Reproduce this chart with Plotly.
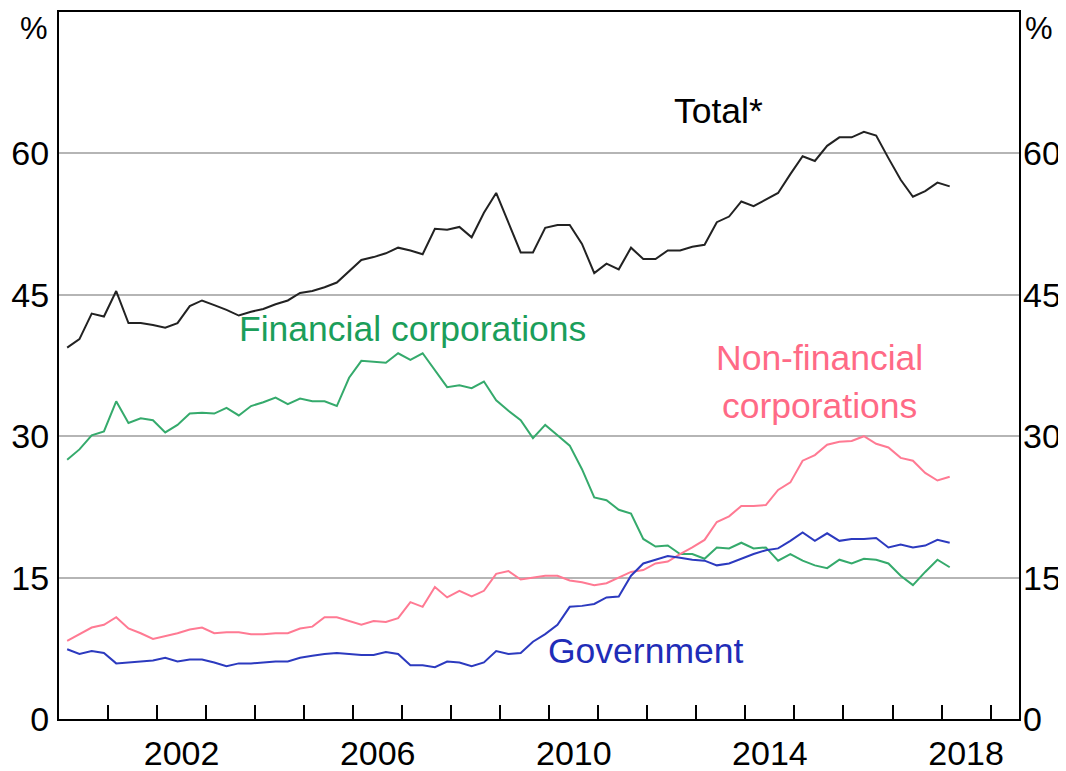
import plotly.graph_objects as go

# Quarterly observations, March 2000 to March 2018 (plotted at 1 March of quarter end month)
start_year = 2000
n_quarters = 73
dates = [start_year + 2/12 + 0.25 * i for i in range(n_quarters)]

total = [39.4, 40.3, 43.0, 42.7, 45.4, 42.0, 42.0, 41.8, 41.5, 42.0,
         43.8, 44.4, 43.9, 43.4, 42.8, 43.2, 43.5, 44.0, 44.4, 45.2,
         45.4, 45.8, 46.3, 47.5, 48.7, 49.0, 49.4, 50.0, 49.7, 49.3,
         52.0, 51.9, 52.2, 51.1, 53.7, 55.8, 52.7, 49.5, 49.5, 52.1,
         52.4, 52.4, 50.4, 47.3, 48.3, 47.7, 50.0, 48.8, 48.8, 49.7,
         49.7, 50.1, 50.3, 52.7, 53.3, 54.9, 54.4, 55.1, 55.8, 57.8,
         59.7, 59.2, 60.8, 61.7, 61.7, 62.3, 61.9, 59.5, 57.2, 55.4,
         56.0, 56.9, 56.5]

financial = [27.5, 28.6, 30.1, 30.5, 33.7, 31.4, 31.9, 31.7, 30.4, 31.2,
             32.4, 32.5, 32.4, 33.0, 32.2, 33.2, 33.6, 34.1, 33.4, 34.0,
             33.7, 33.7, 33.2, 36.2, 38.0, 37.9, 37.8, 38.8, 38.1, 38.8,
             37.0, 35.2, 35.4, 35.1, 35.8, 33.8, 32.7, 31.7, 29.8, 31.2,
             30.1, 29.0, 26.5, 23.5, 23.2, 22.2, 21.8, 19.1, 18.3, 18.4,
             17.5, 17.5, 17.0, 18.2, 18.1, 18.7, 18.1, 18.2, 16.8, 17.5,
             16.8, 16.3, 16.0, 16.9, 16.5, 17.0, 16.9, 16.5, 15.2, 14.2,
             15.6, 16.9, 16.1]

non_financial = [8.3, 9.0, 9.7, 10.0, 10.8, 9.6, 9.1, 8.5, 8.8, 9.1,
                 9.5, 9.7, 9.1, 9.2, 9.2, 9.0, 9.0, 9.1, 9.1, 9.6,
                 9.8, 10.8, 10.8, 10.4, 10.0, 10.4, 10.3, 10.7, 12.4, 11.9,
                 14.0, 12.9, 13.6, 13.0, 13.6, 15.4, 15.7, 14.8, 15.0, 15.2,
                 15.2, 14.7, 14.5, 14.2, 14.4, 15.0, 15.6, 15.8, 16.5, 16.7,
                 17.5, 18.2, 19.0, 20.9, 21.5, 22.6, 22.6, 22.7, 24.3, 25.1,
                 27.4, 28.0, 29.1, 29.4, 29.5, 30.0, 29.2, 28.8, 27.7, 27.4,
                 26.1, 25.3, 25.7]

government = [7.4, 6.9, 7.2, 7.0, 5.9, 6.0, 6.1, 6.2, 6.5, 6.1,
              6.3, 6.3, 6.0, 5.6, 5.9, 5.9, 6.0, 6.1, 6.1, 6.5,
              6.7, 6.9, 7.0, 6.9, 6.8, 6.8, 7.1, 6.9, 5.7, 5.7,
              5.5, 6.1, 6.0, 5.6, 6.0, 7.2, 6.9, 7.0, 8.2, 9.0,
              10.0, 11.9, 12.0, 12.2, 12.9, 13.0, 15.2, 16.5, 16.9, 17.3,
              17.1, 16.9, 16.8, 16.3, 16.5, 17.0, 17.5, 17.9, 18.1, 18.9,
              19.8, 18.9, 19.7, 18.9, 19.1, 19.1, 19.2, 18.2, 18.5, 18.2,
              18.4, 19.0, 18.7]

y_ticks = [0, 15, 30, 45, 60]
x_label_years = [2002, 2006, 2010, 2014, 2018]
x_minor_ticks = list(range(2001, 2020))

BLACK = "#000000"
GREEN = "#1b9e5a"
PINK = "#ff6a86"
BLUE = "#1f2db8"
FONT = "Arial, Liberation Sans, sans-serif"
TICK_SIZE = 34
UNIT_SIZE = 31
LABEL_SIZE = 35.5

fig = go.Figure()
series = [
    ("Total*", total, "#222222"),
    ("Financial corporations", financial, "#35aa6c"),
    ("Non-financial corporations", non_financial, "#ff7a93"),
    ("Government", government, "#2c3abf"),
]
for name, vals, col in series:
    fig.add_trace(go.Scatter(x=dates, y=vals, mode="lines", name=name,
                             line=dict(color=col, width=2), hoverinfo="skip"))
# invisible trace to activate right-hand axis
fig.add_trace(go.Scatter(x=[dates[0]], y=[0], yaxis="y2", mode="lines",
                         line=dict(width=0), showlegend=False, hoverinfo="skip"))

# page body has an 8px margin, so the figure is 8px smaller than the window
fig.update_layout(
    width=1058, height=763,
    margin=dict(l=51, r=47, t=4, b=52, autoexpand=False),
    paper_bgcolor="white", plot_bgcolor="white",
    showlegend=False,
    font=dict(family=FONT, size=TICK_SIZE, color="black"),
    xaxis=dict(
        range=[2000, 2019.58],
        tickmode="array",
        tickvals=[y + 0.5 for y in x_label_years],
        ticktext=[str(y) for y in x_label_years],
        ticks="",
        automargin=False,
        showgrid=False, zeroline=False,
        showline=True, linecolor=BLACK, linewidth=2, mirror=True,
        tickfont=dict(family=FONT, size=TICK_SIZE, color="black"),
        ticklabelstandoff=3,
        minor=dict(tickmode="array", tickvals=x_minor_ticks, ticks="inside",
                   ticklen=14, tickwidth=2, tickcolor=BLACK, showgrid=False),
    ),
    yaxis=dict(
        range=[0, 75],
        tickmode="array", tickvals=y_ticks,
        ticks="", showgrid=True, gridcolor="#b5b5b5", gridwidth=1.5,
        zeroline=False, automargin=False,
        showline=True, linecolor=BLACK, linewidth=2, mirror=True,
        tickfont=dict(family=FONT, size=TICK_SIZE, color="black"),
        ticklabelstandoff=1,
    ),
    yaxis2=dict(
        range=[0, 75], overlaying="y", side="right",
        tickmode="array", tickvals=y_ticks,
        ticks="", showgrid=False, zeroline=False, showline=False,
        automargin=False,
        tickfont=dict(family=FONT, size=TICK_SIZE, color="black"),
        ticklabelstandoff=3,
    ),
)

annots = [
    dict(text="%", x=0, xref="paper", xanchor="right", xshift=-9,
         y=73.2, yref="y", yanchor="middle",
         font=dict(size=UNIT_SIZE, color="black")),
    dict(text="%", x=1, xref="paper", xanchor="left", xshift=4,
         y=73.2, yref="y", yanchor="middle",
         font=dict(size=UNIT_SIZE, color="black")),
    dict(text="Total*", x=2013.45, y=64.5, font=dict(size=LABEL_SIZE, color=BLACK)),
    dict(text="Financial corporations", x=2007.21, y=41.4, font=dict(size=LABEL_SIZE, color=GREEN)),
    dict(text="Non-financial", x=2015.52, y=38.3, font=dict(size=LABEL_SIZE, color=PINK)),
    dict(text="corporations", x=2015.52, y=33.2, font=dict(size=LABEL_SIZE, color=PINK)),
    dict(text="Government", x=2011.97, y=7.2, font=dict(size=LABEL_SIZE, color=BLUE)),
]
for a in annots:
    a.setdefault("xref", "x")
    a.setdefault("yref", "y")
    a.setdefault("xanchor", "center")
    a.setdefault("yanchor", "middle")
    a["showarrow"] = False
    a["font"]["family"] = FONT
    fig.add_annotation(**a)

fig.write_html("out.html")
